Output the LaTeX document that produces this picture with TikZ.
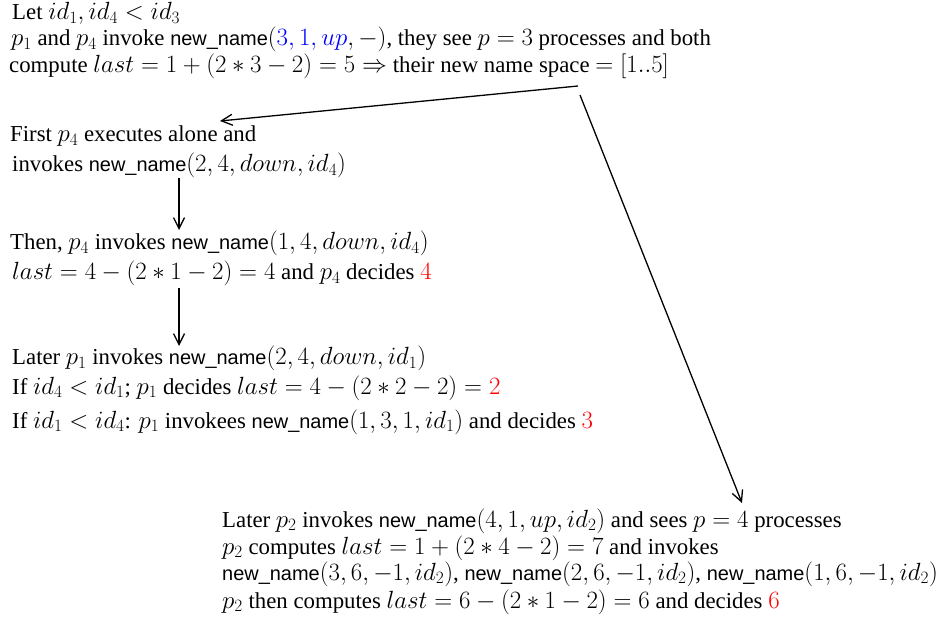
\RequirePackage{fix-cm}
\documentclass[tikz,border=0pt]{standalone}
\usepackage[no-math]{fontspec}
\setmainfont{Liberation Serif}
\setsansfont{Liberation Sans}[Scale=0.875]
\DeclareMathSizes{22.8}{24.88}{17.28}{12.4}
\usetikzlibrary{arrows.meta}
\newcommand{\nn}{\textsf{new\_name}}
\begin{document}
\begin{tikzpicture}[x=1pt,y=-1pt,
  blk/.style={anchor=base west,inner sep=0pt,font=\fontsize{22.8}{27}\selectfont},
  arr/.style={line width=1.3pt,-{Straight Barb[length=11pt,width=11pt]}}]
\useasboundingbox (0,0) rectangle (940,620);
\node[blk] (top) at (9,20) {\begin{tabular}[t]{@{}l@{}}
\hspace{3pt}Let $id_1, id_4 < id_3$\\[-1pt]
\hspace{2pt}$p_1$ and $p_4$ invoke \nn$(\textcolor{blue}{3, 1, up}, -)$, they see $p=3$ processes and both\\[0pt]
compute $last = 1 + (2*3-2) = 5 \Rightarrow$ their new name space $= [1..5]$
\end{tabular}};
\node[blk] (n2) at (10,142) {\begin{tabular}[t]{@{}l@{}}
First $p_4$ executes alone and\\[3pt]
\hspace{2pt}invokes \nn$(2, 4, down, id_4)$
\end{tabular}};
\node[blk] (n3) at (10,250) {\begin{tabular}[t]{@{}l@{}}
Then, $p_4$ invokes \nn$(1, 4, down, id_4)$\\[3pt]
\hspace{2pt}$last = 4 - (2*1-2) = 4$ and $p_4$ decides \textcolor{red}{$4$}
\end{tabular}};
\node[blk] (n4) at (12,365) {\begin{tabular}[t]{@{}l@{}}
Later $p_1$ invokes \nn$(2, 4, down, id_1)$\\[2pt]
If $id_4 < id_1$; $p_1$ decides $last = 4 - (2*2-2) = \textcolor{red}{2}$\\[7pt]
If $id_1 < id_4$: $p_1$ invokees \nn$(1, 3, 1, id_1)$ and decides \textcolor{red}{$3$}
\end{tabular}};
\node[blk] (n5) at (222,527) {\begin{tabular}[t]{@{}l@{}}
Later $p_2$ invokes \nn$(4, 1, up, id_2)$ and sees $p=4$ processes\\[0pt]
$p_2$ computes $last = 1 + (2*4-2) = 7$ and invokes\\[-1pt]
\nn$(3, 6, -1, id_2)$, \nn$(2, 6, -1, id_2)$, \nn$(1, 6, -1, id_2)$\\[1pt]
$p_2$ then computes $last = 6 - (2*1-2) = 6$ and decides \textcolor{red}{$6$}
\end{tabular}};
\coordinate (s1) at (578,86);
\coordinate (s2) at (580,95);
\coordinate (e1) at (220,121);
\coordinate (e5) at (742,503);
\coordinate (a1) at (179,178);
\coordinate (b1) at (179,230);
\coordinate (a2) at (179,288);
\coordinate (b2) at (179,346);
\draw[arr] (s1) -- (e1);
\draw[arr] (s2) -- (e5);
\draw[arr] (a1) -- (b1);
\draw[arr] (a2) -- (b2);
\end{tikzpicture}
\end{document}
